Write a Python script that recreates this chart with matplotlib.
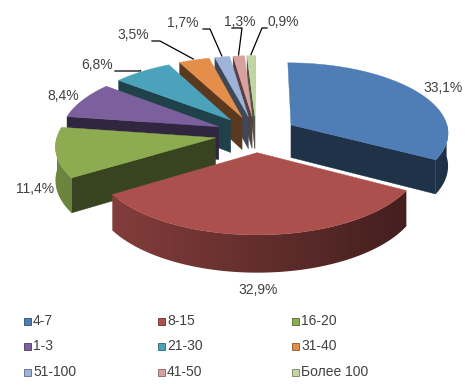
import numpy as np
import matplotlib.pyplot as plt
from matplotlib.patches import Polygon, Rectangle
from matplotlib.colors import to_rgb

plt.rcParams['font.family'] = ['Liberation Sans', 'DejaVu Sans']

# data
categories = ['4-7', '8-15', '16-20', '1-3', '21-30', '31-40', '51-100', '41-50', 'Более 100']
shares = [33.1, 32.9, 11.4, 8.4, 6.8, 3.5, 1.7, 1.3, 0.9]
colors = ['#4e7eb5', '#ab504d', '#8dab50', '#7b609d', '#4aa3ba',
          '#e38e4a', '#9db3d9', '#d8a1a0', '#c2d6a2']

# layout of the fake 3d pie (pixels)
cx, cy = 256, 134
rx, ry = 158, 70
depth = 33
explode = 0.26
persp = 0.1

# label centres and leader settings (None = no leader)
label_xy = [(443, 88), (258, 290), (35, 189), (63, 96), (97, 65),
            (133, 35), (183, 23), (240, 22), (283, 22)]
leader = [None, None, None, None, (115, 140), (152, 160), (203, 210), (232, 242), (267, 262)]

fig = plt.figure(figsize=(4.75, 3.9), dpi=100)
ax = fig.add_axes([0, 0, 1, 1])
ax.axis('off')


def proj(u, v, w=0.0):
    s = 1.0 / (1.0 - persp * v)
    return cx + rx * u * s, cy + (ry * v + depth * w) * s


def shade(c, f):
    r, g, b = to_rgb(c)
    return (r * f, g * f, b * f)


total = sum(shares)
bounds = np.concatenate([[0], np.cumsum(shares)]) / total * 2 * np.pi
slices = []
for i in range(len(shares)):
    t1, t2 = bounds[i], bounds[i + 1]
    mid = (t1 + t2) / 2
    ou, ov = explode * np.sin(mid), -explode * np.cos(mid)
    slices.append((i, t1, t2, mid, ou, ov))

# far slices first
order = sorted(slices, key=lambda s: s[5])
for z, (i, t1, t2, mid, ou, ov) in enumerate(order):
    col = colors[i]
    zb = 2 + z * 3
    th = np.linspace(t1, t2, max(4, int((t2 - t1) * 60)))
    top = [proj(ou, ov)] + [proj(ou + np.sin(t), ov - np.cos(t)) for t in th]
    # radial faces
    for t, vis in ((t1, -np.sin(t1) > 0), (t2, np.sin(t2) > 0)):
        if vis:
            a0 = proj(ou, ov)
            a1 = proj(ou + np.sin(t), ov - np.cos(t))
            b0 = proj(ou, ov, 1)
            b1 = proj(ou + np.sin(t), ov - np.cos(t), 1)
            fc = shade(col, 0.4)
            ax.add_patch(Polygon([a0, a1, b1, b0], closed=True, fc=fc, ec=fc, lw=0.3, zorder=zb))
    # outer side with a left-to-right gradient
    vis = th[-np.cos(th) > -0.02]
    if len(vis) > 1:
        upper = [proj(ou + np.sin(t), ov - np.cos(t)) for t in vis]
        lower = [proj(ou + np.sin(t), ov - np.cos(t), 1) for t in vis[::-1]]
        pts = np.array(upper + lower)
        side = Polygon(pts, closed=True, fc='none', ec='none', zorder=zb + 1)
        ax.add_patch(side)
        x0, x1 = pts[:, 0].min(), pts[:, 0].max()
        y0, y1 = pts[:, 1].min(), pts[:, 1].max()
        xs = np.linspace(x0, x1, 200)
        ox = proj(ou, ov)[0]
        f = 0.58 - 0.2 * np.clip((xs - ox) / rx, -1, 1)
        grad = np.array([shade(col, v) for v in f])[None, :, :]
        im = ax.imshow(grad, extent=[x0, x1, y1, y0], origin='upper', aspect='auto',
                       interpolation='bilinear', zorder=zb + 1)
        im.set_clip_path(side)
    ax.add_patch(Polygon(top, closed=True, fc=col, ec=col, lw=0.3, zorder=zb + 2))

# percentage labels
for (i, t1, t2, mid, ou, ov) in slices:
    txt = f"{shares[i]:.1f}".replace('.', ',') + '%'
    x, y = label_xy[i]
    ax.text(x, y, txt, fontsize=10, color='#404040', ha='center', va='center', zorder=50)
    if leader[i] is not None:
        sx, ex = leader[i]
        r = 1 + explode + 0.02
        px, py = proj(r * np.sin(mid), -r * np.cos(mid))
        ax.plot([sx, ex, px], [y + 6, y + 6, py], color='black', lw=0.9, zorder=49)

# legend, filled row by row
for i, name in enumerate(categories):
    row, c = divmod(i, 3)
    x0 = 24 + c * 134
    y0 = 321 + row * 25.5
    ax.add_patch(Rectangle((x0, y0 - 3.5), 7, 7, fc=colors[i], ec=shade(colors[i], 0.6), lw=0.6, zorder=50))
    ax.text(x0 + 9, y0, name, fontsize=10, color='#404040', ha='left', va='center', zorder=50)

ax.set_xlim(0, 475)
ax.set_ylim(390, 0)
fig.savefig('out.png', dpi=100)
